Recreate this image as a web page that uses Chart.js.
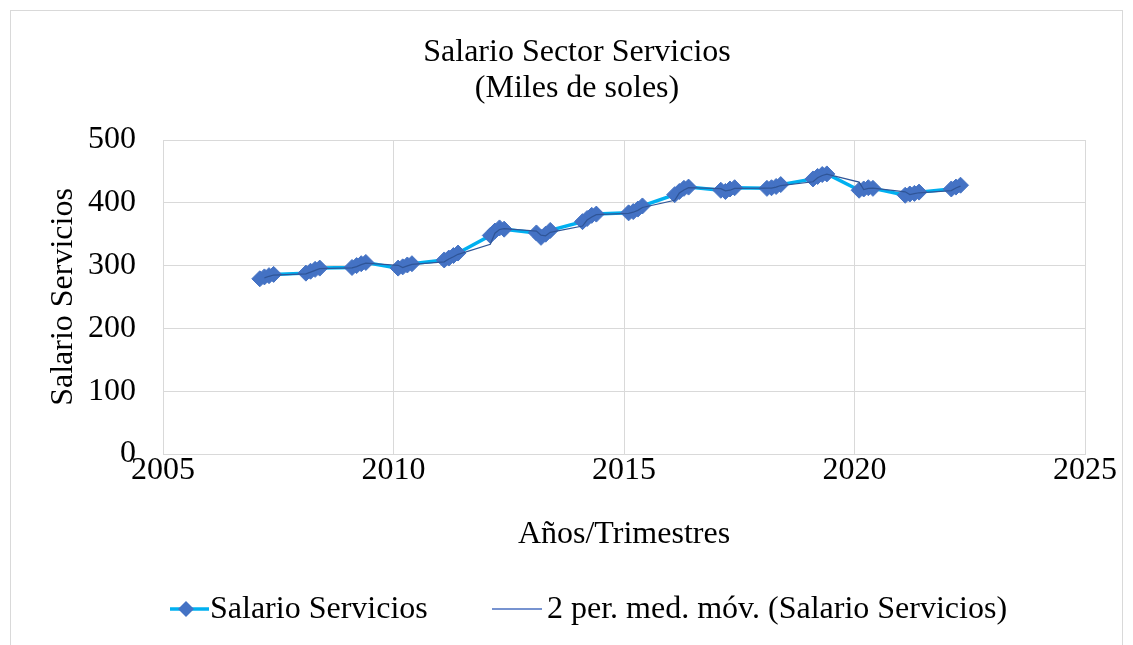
<!DOCTYPE html>
<html>
<head>
<meta charset="utf-8">
<script src="https://cdn.jsdelivr.net/npm/chart.js@4.4.1/dist/chart.umd.min.js"></script>
<style>
  html, body { margin: 0; padding: 0; background: #fff; }
  #wrap { position: relative; width: 1133px; height: 645px; }
</style>
</head>
<body>
<div id="wrap"><canvas id="chart" width="1133" height="645"></canvas></div>
<script>
// Salario sector servicios, trimestral (x = año + trimestre/10)
const periodos = [
  2007.1, 2007.2, 2007.3, 2007.4,
  2008.1, 2008.2, 2008.3, 2008.4,
  2009.1, 2009.2, 2009.3, 2009.4,
  2010.1, 2010.2, 2010.3, 2010.4,
  2011.1, 2011.2, 2011.3, 2011.4,
  2012.1, 2012.2, 2012.3, 2012.4,
  2013.1, 2013.2, 2013.3, 2013.4,
  2014.1, 2014.2, 2014.3, 2014.4,
  2015.1, 2015.2, 2015.3, 2015.4,
  2016.1, 2016.2, 2016.3, 2016.4,
  2017.1, 2017.2, 2017.3, 2017.4,
  2018.1, 2018.2, 2018.3, 2018.4,
  2019.1, 2019.2, 2019.3, 2019.4,
  2020.1, 2020.2, 2020.3, 2020.4,
  2021.1, 2021.2, 2021.3, 2021.4,
  2022.1, 2022.2, 2022.3
];
const salarioServicios = [
  279, 282, 284, 286,
  288, 291, 294, 296,
  297, 300, 303, 305,
  296, 298, 301, 303,
  309, 312, 316, 320,
  348, 355, 360, 358,
  352, 345, 350, 356,
  370, 375, 380, 382,
  384, 386, 390, 395,
  413, 418, 423, 425,
  420, 418, 422, 424,
  423, 424, 426, 429,
  438, 442, 445, 446,
  420, 422, 424, 423,
  412, 414, 415, 417,
  422, 425, 428
];
const xTicks = [2005, 2010, 2015, 2020, 2025];
const yTicks = [0, 100, 200, 300, 400, 500];
const titulo = ['Salario Sector Servicios', '(Miles de soles)'];
const nombreSerie = 'Salario Servicios';
const nombreMedia = '2 per. med. móv. (Salario Servicios)';

const FONT = "'Liberation Serif', 'Times New Roman', serif";
const SIZE = 32;
const SERIE_COLOR = '#00B0F0';
const MARKER_COLOR = '#4472C4';
const MEDIA_COLOR = '#2F5597';
const GRID = '#D9D9D9';

// media movil de 2 periodos (como la linea de tendencia de Excel)
const mediaMovil = salarioServicios.map((v, i) =>
  i === 0 ? null : (salarioServicios[i - 1] + v) / 2);

const puntos = periodos.map((x, i) => ({ x: x, y: salarioServicios[i] }));
const puntosMedia = periodos.map((x, i) => ({ x: x, y: mediaMovil[i] }));

const marco = {
  id: 'marco',
  beforeDraw(chart) {
    const ctx = chart.ctx;
    ctx.save();
    ctx.strokeStyle = GRID;
    ctx.lineWidth = 1;
    ctx.strokeRect(10.5, 10.5, 1112, 700);
    ctx.restore();
  }
};

// titulo y leyenda al estilo Excel
const textos = {
  id: 'textos',
  afterDraw(chart) {
    const ctx = chart.ctx;
    ctx.save();
    ctx.fillStyle = '#000';
    ctx.font = SIZE + 'px ' + FONT;
    ctx.textBaseline = 'middle';
    ctx.textAlign = 'center';
    ctx.fillText(titulo[0], 577, 53);
    ctx.fillText(titulo[1], 577, 89);

    const y = 609;
    ctx.strokeStyle = SERIE_COLOR;
    ctx.lineWidth = 3.5;
    ctx.beginPath();
    ctx.moveTo(170, y);
    ctx.lineTo(209, y);
    ctx.stroke();
    ctx.fillStyle = MARKER_COLOR;
    ctx.beginPath();
    ctx.moveTo(186, y - 8);
    ctx.lineTo(194, y);
    ctx.lineTo(186, y + 8);
    ctx.lineTo(178, y);
    ctx.closePath();
    ctx.fill();
    ctx.strokeStyle = '#4A6FC0';
    ctx.lineWidth = 1.5;
    ctx.beginPath();
    ctx.moveTo(492, y);
    ctx.lineTo(542, y);
    ctx.stroke();
    ctx.fillStyle = '#000';
    ctx.textAlign = 'left';
    ctx.fillText(nombreSerie, 210, y + 1);
    ctx.fillText(nombreMedia, 547, y + 1);
    ctx.restore();
  }
};

new Chart(document.getElementById('chart'), {
  type: 'scatter',
  data: {
    datasets: [{
      label: nombreMedia,
      data: puntosMedia,
      showLine: true,
      borderColor: MEDIA_COLOR,
      borderWidth: 1.25,
      pointRadius: 0,
      fill: false,
      tension: 0,
      order: 0
    }, {
      label: nombreSerie,
      data: puntos,
      showLine: true,
      borderColor: SERIE_COLOR,
      borderWidth: 3.5,
      pointStyle: 'rectRot',
      pointRadius: 8,
      pointBackgroundColor: MARKER_COLOR,
      pointBorderColor: MARKER_COLOR,
      pointBorderWidth: 1,
      fill: false,
      tension: 0,
      order: 1
    }]
  },
  options: {
    responsive: false,
    animation: false,
    layout: { padding: { left: 0, right: 48, top: 140, bottom: 86 } },
    plugins: {
      legend: { display: false },
      tooltip: { enabled: false },
      title: { display: false }
    },
    scales: {
      x: {
        type: 'linear',
        min: 2005,
        max: 2025,
        afterBuildTicks: (axis) => { axis.ticks = xTicks.map(v => ({ value: v })); },
        afterFit: (axis) => { axis.height = 105; },
        grid: { color: GRID, drawTicks: false },
        border: { color: GRID },
        ticks: {
          color: '#000',
          padding: -3,
          maxRotation: 0,
          font: { family: FONT, size: SIZE },
          callback: (v) => String(v)
        },
        title: {
          display: true,
          text: 'Años/Trimestres',
          color: '#000',
          font: { family: FONT, size: SIZE },
          padding: { top: 0, bottom: 5 }
        }
      },
      y: {
        min: 0,
        max: 500,
        afterBuildTicks: (axis) => { axis.ticks = yTicks.map(v => ({ value: v })); },
        afterFit: (axis) => { axis.width = 163; },
        grid: { color: GRID, drawTicks: false },
        border: { color: GRID },
        ticks: {
          color: '#000',
          padding: 27,
          font: { family: FONT, size: SIZE }
        },
        title: {
          display: true,
          text: 'Salario Servicios',
          color: '#000',
          font: { family: FONT, size: SIZE },
          padding: { top: 44, bottom: 0 }
        }
      }
    }
  },
  plugins: [marco, textos]
});
</script>
</body>
</html>
